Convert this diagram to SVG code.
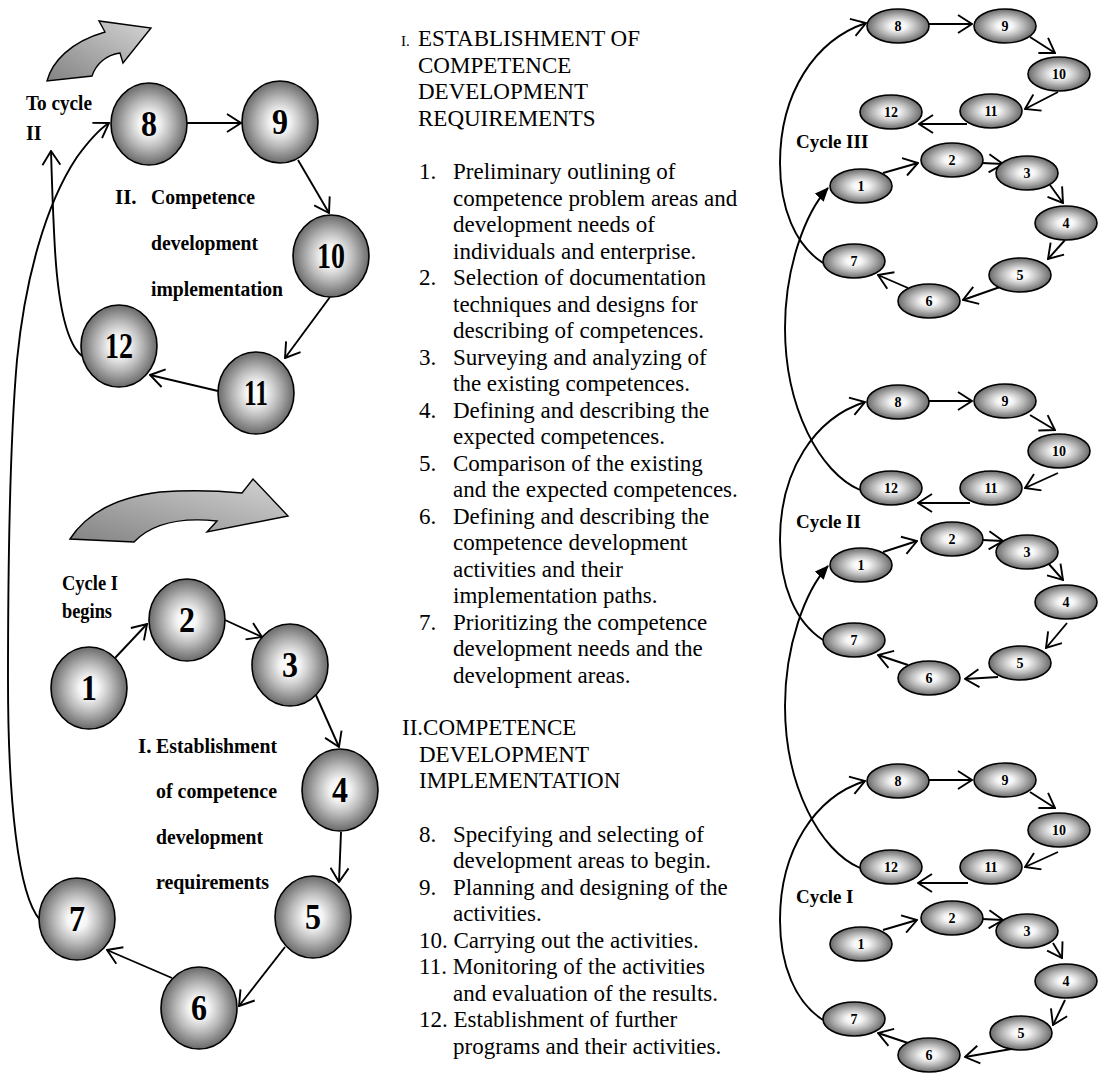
<svg xmlns="http://www.w3.org/2000/svg" width="1098" height="1074" viewBox="0 0 1098 1074">
  <style>
    .node { fill: url(#ball); stroke: #000; stroke-width: 1.6; }
    .num { font-family: "Liberation Serif", "Times New Roman", serif; font-weight: bold; font-size: 36px; text-anchor: middle; fill: #000; }
    .snum { font-family: "Liberation Serif", "Times New Roman", serif; font-weight: bold; font-size: 14px; text-anchor: middle; fill: #000; }
    .lbl { font-family: "Liberation Serif", "Times New Roman", serif; font-weight: bold; font-size: 21px; fill: #000; }
    .cyc { font-family: "Liberation Serif", "Times New Roman", serif; font-weight: bold; font-size: 20px; fill: #000; }
    .body { font-family: "Liberation Serif", "Times New Roman", serif; font-size: 23px; fill: #000; }
    .link { fill: none; stroke: #000; stroke-width: 1.9; marker-end: url(#open); }
    .lift { fill: none; stroke: #000; stroke-width: 1.9; marker-end: url(#solid); }
    .bend { fill: url(#band); stroke: #000; stroke-width: 1.4; stroke-linejoin: miter; }
  </style>
  <defs>
    <radialGradient id="ball" cx="0.5" cy="0.5" r="0.5">
      <stop offset="0" stop-color="#ffffff"/>
      <stop offset="0.25" stop-color="#f6f6f6"/>
      <stop offset="0.6" stop-color="#b8b8b8"/>
      <stop offset="1" stop-color="#6a6a6a"/>
    </radialGradient>
    <linearGradient id="band" x1="0" y1="1" x2="1" y2="0">
      <stop offset="0" stop-color="#838383"/>
      <stop offset="1" stop-color="#d4d4d4"/>
    </linearGradient>
    <marker id="open" viewBox="0 0 16 20" refX="15" refY="10" markerWidth="16" markerHeight="20" markerUnits="userSpaceOnUse" orient="auto">
      <path d="M1,1 L15,10 L1,19" fill="none" stroke="#000" stroke-width="1.9"/>
    </marker>
    <marker id="solid" viewBox="0 0 14 12" refX="13" refY="6" markerWidth="14" markerHeight="12" markerUnits="userSpaceOnUse" orient="auto">
      <path d="M0,0 L14,6 L0,12 Z" fill="#000"/>
    </marker>
  </defs>

  <!-- curved block arrows -->
  <g id="bend-arrows">
    <path class="bend" d="M47,81 C52,62 70,42 105,32 L99,21 L151,28 L123,63 L120,53 C106,55 96,64 92,76 Z"/>
    <path class="bend" d="M70,539 Q95,500 160,492 Q200,489 242,493 L253,479 L288,516 L207,532 L217,521 Q160,515 134,542 Z"/>
  </g>

  <!-- connectors -->
  <g id="connectors">
    <!-- large cycle, phase I -->
    <path class="link" d="M115,658 L147,624"/>
    <path class="link" d="M225,620 L262,637"/>
    <path class="link" d="M315,693 L339,747"/>
    <path class="link" d="M341,832 L339,882"/>
    <path class="link" d="M285,947 L239,1006"/>
    <path class="link" d="M172,978 L107,950"/>
    <path class="link" d="M40,920 C18,895 8,800 8,680 C8,560 10,440 17,360 C25,280 45,205 77,157 C88,142 98,130 109,123"/>
    <!-- large cycle, phase II -->
    <path class="link" d="M187,123 L241,123"/>
    <path class="link" d="M298,160 L329,213"/>
    <path class="link" d="M330,297 L285,358"/>
    <path class="link" d="M218,391 L150,375"/>
    <path class="link" d="M82,356 C66,343 58,300 55,250 C53,215 52,185 51,151"/>

    <!-- spiral: cycle III -->
    <path class="link" d="M929,24 L972,24"/>
    <path class="link" d="M1030,37 L1055,53"/>
    <path class="link" d="M1058,92 L1025,109"/>
    <path class="link" d="M967,124 L919,124"/>
    <path class="link" d="M883,173 L918,163"/>
    <path class="link" d="M982,163 L1003,164"/>
    <path class="link" d="M1050,185 L1063,203"/>
    <path class="link" d="M1065,240 L1048,259"/>
    <path class="link" d="M1000,287 L963,300"/>
    <path class="link" d="M908,288 L878,275"/>
    <path class="link" d="M823,263 C795,245 780,208 780,163 C780,93 815,40 866,23"/>

    <!-- spiral: cycle II -->
    <path class="link" d="M929,401 L972,401"/>
    <path class="link" d="M1030,415 L1055,430"/>
    <path class="link" d="M1058,473 L1025,488"/>
    <path class="link" d="M970,503 L918,503"/>
    <path class="link" d="M883,552 L917,541"/>
    <path class="link" d="M982,540 L1003,541"/>
    <path class="link" d="M1048,563 L1063,580"/>
    <path class="link" d="M1067,623 L1046,648"/>
    <path class="link" d="M998,677 L965,679"/>
    <path class="link" d="M908,665 L878,655"/>
    <path class="link" d="M823,640 C795,622 780,585 780,540 C780,470 815,418 865,402"/>
    <path class="lift" d="M860,490 C820,473 785,408 785,328 C785,268 805,213 828,188"/>

    <!-- spiral: cycle I -->
    <path class="link" d="M929,780 L972,780"/>
    <path class="link" d="M1030,792 L1055,808"/>
    <path class="link" d="M1058,852 L1025,867"/>
    <path class="link" d="M968,883 L918,883"/>
    <path class="link" d="M883,930 L917,920"/>
    <path class="link" d="M982,919 L1003,920"/>
    <path class="link" d="M1053,943 L1062,958"/>
    <path class="link" d="M1065,1000 L1053,1025"/>
    <path class="link" d="M1017,1048 L965,1057"/>
    <path class="link" d="M908,1043 L878,1033"/>
    <path class="link" d="M823,1020 C795,1002 780,965 780,920 C780,850 815,797 865,781"/>
    <path class="lift" d="M860,868 C820,851 785,786 785,706 C785,646 805,591 828,566"/>
  </g>

  <!-- large cycle nodes -->
  <g id="step-1"><ellipse class="node" cx="89" cy="688" rx="38" ry="41"/><text class="num" x="89" y="700" textLength="16" lengthAdjust="spacingAndGlyphs">1</text></g>
  <g id="step-2"><ellipse class="node" cx="187" cy="620" rx="38" ry="41"/><text class="num" x="187" y="632" textLength="16" lengthAdjust="spacingAndGlyphs">2</text></g>
  <g id="step-3"><ellipse class="node" cx="290" cy="665" rx="38" ry="41"/><text class="num" x="290" y="677" textLength="16" lengthAdjust="spacingAndGlyphs">3</text></g>
  <g id="step-4"><ellipse class="node" cx="340" cy="790" rx="38" ry="41"/><text class="num" x="340" y="802" textLength="16" lengthAdjust="spacingAndGlyphs">4</text></g>
  <g id="step-5"><ellipse class="node" cx="313" cy="917" rx="38" ry="41"/><text class="num" x="313" y="929" textLength="16" lengthAdjust="spacingAndGlyphs">5</text></g>
  <g id="step-6"><ellipse class="node" cx="199" cy="1008" rx="38" ry="41"/><text class="num" x="199" y="1020" textLength="16" lengthAdjust="spacingAndGlyphs">6</text></g>
  <g id="step-7"><ellipse class="node" cx="77" cy="919" rx="38" ry="41"/><text class="num" x="77" y="931" textLength="16" lengthAdjust="spacingAndGlyphs">7</text></g>
  <g id="step-8"><ellipse class="node" cx="149" cy="124" rx="38" ry="41"/><text class="num" x="149" y="136" textLength="16" lengthAdjust="spacingAndGlyphs">8</text></g>
  <g id="step-9"><ellipse class="node" cx="280" cy="122" rx="38" ry="41"/><text class="num" x="280" y="134" textLength="16" lengthAdjust="spacingAndGlyphs">9</text></g>
  <g id="step-10"><ellipse class="node" cx="331" cy="256" rx="38" ry="41"/><text class="num" x="331" y="268" textLength="28" lengthAdjust="spacingAndGlyphs">10</text></g>
  <g id="step-11"><ellipse class="node" cx="256" cy="393" rx="38" ry="41"/><text class="num" x="256" y="405" textLength="24" lengthAdjust="spacingAndGlyphs">11</text></g>
  <g id="step-12"><ellipse class="node" cx="119" cy="346" rx="38" ry="41"/><text class="num" x="119" y="358" textLength="28" lengthAdjust="spacingAndGlyphs">12</text></g>

  <!-- large cycle captions -->
  <g id="captions">
    <text class="cyc" x="26" y="110" textLength="66" lengthAdjust="spacingAndGlyphs">To cycle</text>
    <text class="cyc" x="26" y="140">II</text>
    <text class="lbl" x="115" y="204">II.</text>
    <text class="lbl" x="151" y="204" textLength="104" lengthAdjust="spacingAndGlyphs">Competence</text>
    <text class="lbl" x="151" y="250" textLength="107" lengthAdjust="spacingAndGlyphs">development</text>
    <text class="lbl" x="151" y="296" textLength="132" lengthAdjust="spacingAndGlyphs">implementation</text>
    <text class="cyc" x="62" y="590" textLength="56" lengthAdjust="spacingAndGlyphs">Cycle I</text>
    <text class="cyc" x="62" y="618" textLength="50" lengthAdjust="spacingAndGlyphs">begins</text>
    <text class="lbl" x="138" y="753">I.</text>
    <text class="lbl" x="156" y="753" textLength="121" lengthAdjust="spacingAndGlyphs">Establishment</text>
    <text class="lbl" x="156" y="798" textLength="121" lengthAdjust="spacingAndGlyphs">of competence</text>
    <text class="lbl" x="156" y="844" textLength="107" lengthAdjust="spacingAndGlyphs">development</text>
    <text class="lbl" x="156" y="889" textLength="113" lengthAdjust="spacingAndGlyphs">requirements</text>
  </g>

  <!-- step descriptions -->
  <g id="step-list" class="body">
    <text x="401" y="46" style="font-size:15px">I.</text>
    <text x="418" y="46">ESTABLISHMENT OF</text>
    <text x="418" y="73">COMPETENCE</text>
    <text x="418" y="99">DEVELOPMENT</text>
    <text x="418" y="126">REQUIREMENTS</text>

    <text x="419" y="179">1.</text><text x="453" y="179">Preliminary outlining of</text>
    <text x="453" y="205.5">competence problem areas and</text>
    <text x="453" y="232">development needs of</text>
    <text x="453" y="258.5">individuals and enterprise.</text>
    <text x="419" y="285">2.</text><text x="453" y="285">Selection of documentation</text>
    <text x="453" y="311.5">techniques and designs for</text>
    <text x="453" y="338">describing of competences.</text>
    <text x="419" y="364.5">3.</text><text x="453" y="364.5">Surveying and analyzing of</text>
    <text x="453" y="391">the existing competences.</text>
    <text x="419" y="417.5">4.</text><text x="453" y="417.5">Defining and describing the</text>
    <text x="453" y="444">expected competences.</text>
    <text x="419" y="470.5">5.</text><text x="453" y="470.5">Comparison of the existing</text>
    <text x="453" y="497">and the expected competences.</text>
    <text x="419" y="523.5">6.</text><text x="453" y="523.5">Defining and describing the</text>
    <text x="453" y="550">competence development</text>
    <text x="453" y="576.5">activities and their</text>
    <text x="453" y="603">implementation paths.</text>
    <text x="419" y="629.5">7.</text><text x="453" y="629.5">Prioritizing the competence</text>
    <text x="453" y="656">development needs and the</text>
    <text x="453" y="682.5">development areas.</text>

    <text x="402" y="735">II.COMPETENCE</text>
    <text x="419" y="762">DEVELOPMENT</text>
    <text x="419" y="788">IMPLEMENTATION</text>

    <text x="419" y="841.5">8.</text><text x="453" y="841.5">Specifying and selecting of</text>
    <text x="453" y="868">development areas to begin.</text>
    <text x="419" y="894.5">9.</text><text x="453" y="894.5">Planning and designing of the</text>
    <text x="453" y="921">activities.</text>
    <text x="419" y="947.5">10. Carrying out the activities.</text>
    <text x="419" y="974">11. Monitoring of the activities</text>
    <text x="453" y="1000.5">and evaluation of the results.</text>
    <text x="419" y="1027">12. Establishment of further</text>
    <text x="453" y="1053.5">programs and their activities.</text>
  </g>

  <!-- spiral, cycle III -->
  <g id="c3-1"><ellipse class="node" cx="861" cy="186" rx="31" ry="17"/><text class="snum" x="861" y="191">1</text></g>
  <g id="c3-2"><ellipse class="node" cx="952" cy="160" rx="31" ry="17"/><text class="snum" x="952" y="165">2</text></g>
  <g id="c3-3"><ellipse class="node" cx="1027" cy="173" rx="31" ry="17"/><text class="snum" x="1027" y="178">3</text></g>
  <g id="c3-4"><ellipse class="node" cx="1066" cy="223" rx="31" ry="17"/><text class="snum" x="1066" y="228">4</text></g>
  <g id="c3-5"><ellipse class="node" cx="1020" cy="275" rx="31" ry="17"/><text class="snum" x="1020" y="280">5</text></g>
  <g id="c3-6"><ellipse class="node" cx="929" cy="301" rx="31" ry="17"/><text class="snum" x="929" y="306">6</text></g>
  <g id="c3-7"><ellipse class="node" cx="854" cy="261" rx="31" ry="17"/><text class="snum" x="854" y="266">7</text></g>
  <g id="c3-8"><ellipse class="node" cx="898" cy="26" rx="31" ry="17"/><text class="snum" x="898" y="31">8</text></g>
  <g id="c3-9"><ellipse class="node" cx="1005" cy="26" rx="31" ry="17"/><text class="snum" x="1005" y="31">9</text></g>
  <g id="c3-10"><ellipse class="node" cx="1059" cy="74" rx="31" ry="17"/><text class="snum" x="1059" y="79">10</text></g>
  <g id="c3-11"><ellipse class="node" cx="991" cy="111" rx="31" ry="17"/><text class="snum" x="991" y="116">11</text></g>
  <g id="c3-12"><ellipse class="node" cx="891" cy="112" rx="31" ry="17"/><text class="snum" x="891" y="117">12</text></g>
  <text class="cyc" x="796" y="148" style="font-size:19px">Cycle III</text>

  <!-- spiral, cycle II -->
  <g id="c2-1"><ellipse class="node" cx="861" cy="565" rx="31" ry="17"/><text class="snum" x="861" y="570">1</text></g>
  <g id="c2-2"><ellipse class="node" cx="952" cy="539" rx="31" ry="17"/><text class="snum" x="952" y="544">2</text></g>
  <g id="c2-3"><ellipse class="node" cx="1027" cy="552" rx="31" ry="17"/><text class="snum" x="1027" y="557">3</text></g>
  <g id="c2-4"><ellipse class="node" cx="1066" cy="602" rx="31" ry="17"/><text class="snum" x="1066" y="607">4</text></g>
  <g id="c2-5"><ellipse class="node" cx="1020" cy="663" rx="31" ry="17"/><text class="snum" x="1020" y="668">5</text></g>
  <g id="c2-6"><ellipse class="node" cx="929" cy="678" rx="31" ry="17"/><text class="snum" x="929" y="683">6</text></g>
  <g id="c2-7"><ellipse class="node" cx="854" cy="640" rx="31" ry="17"/><text class="snum" x="854" y="645">7</text></g>
  <g id="c2-8"><ellipse class="node" cx="898" cy="402" rx="31" ry="17"/><text class="snum" x="898" y="407">8</text></g>
  <g id="c2-9"><ellipse class="node" cx="1005" cy="401" rx="31" ry="17"/><text class="snum" x="1005" y="406">9</text></g>
  <g id="c2-10"><ellipse class="node" cx="1059" cy="451" rx="31" ry="17"/><text class="snum" x="1059" y="456">10</text></g>
  <g id="c2-11"><ellipse class="node" cx="991" cy="488" rx="31" ry="17"/><text class="snum" x="991" y="493">11</text></g>
  <g id="c2-12"><ellipse class="node" cx="891" cy="488" rx="31" ry="17"/><text class="snum" x="891" y="493">12</text></g>
  <text class="cyc" x="796" y="528" style="font-size:19px">Cycle II</text>

  <!-- spiral, cycle I -->
  <g id="c1-1"><ellipse class="node" cx="861" cy="944" rx="31" ry="17"/><text class="snum" x="861" y="949">1</text></g>
  <g id="c1-2"><ellipse class="node" cx="952" cy="918" rx="31" ry="17"/><text class="snum" x="952" y="923">2</text></g>
  <g id="c1-3"><ellipse class="node" cx="1027" cy="931" rx="31" ry="17"/><text class="snum" x="1027" y="936">3</text></g>
  <g id="c1-4"><ellipse class="node" cx="1066" cy="981" rx="31" ry="17"/><text class="snum" x="1066" y="986">4</text></g>
  <g id="c1-5"><ellipse class="node" cx="1021" cy="1033" rx="31" ry="17"/><text class="snum" x="1021" y="1038">5</text></g>
  <g id="c1-6"><ellipse class="node" cx="929" cy="1055" rx="31" ry="17"/><text class="snum" x="929" y="1060">6</text></g>
  <g id="c1-7"><ellipse class="node" cx="854" cy="1019" rx="31" ry="17"/><text class="snum" x="854" y="1024">7</text></g>
  <g id="c1-8"><ellipse class="node" cx="898" cy="781" rx="31" ry="17"/><text class="snum" x="898" y="786">8</text></g>
  <g id="c1-9"><ellipse class="node" cx="1005" cy="780" rx="31" ry="17"/><text class="snum" x="1005" y="785">9</text></g>
  <g id="c1-10"><ellipse class="node" cx="1059" cy="830" rx="31" ry="17"/><text class="snum" x="1059" y="835">10</text></g>
  <g id="c1-11"><ellipse class="node" cx="991" cy="867" rx="31" ry="17"/><text class="snum" x="991" y="872">11</text></g>
  <g id="c1-12"><ellipse class="node" cx="891" cy="867" rx="31" ry="17"/><text class="snum" x="891" y="872">12</text></g>
  <text class="cyc" x="796" y="903" style="font-size:19px">Cycle I</text>
</svg>
